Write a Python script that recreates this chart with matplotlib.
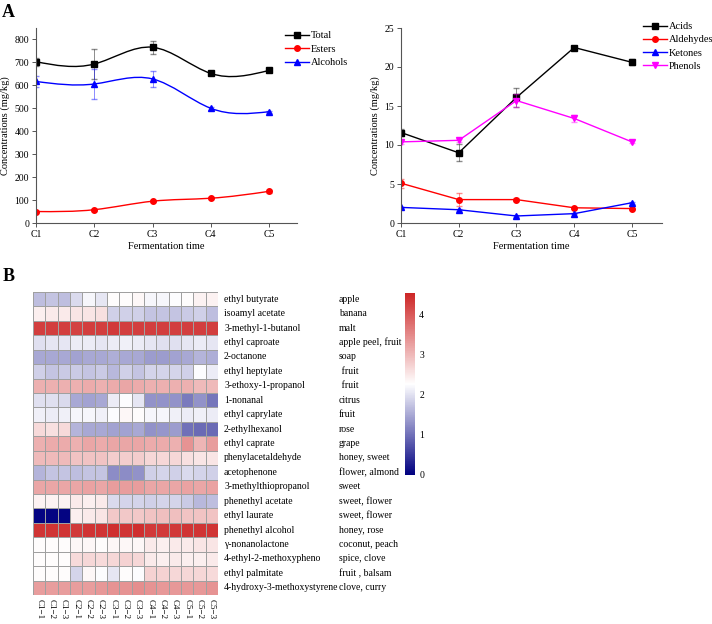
import numpy as np
import matplotlib.pyplot as plt
from matplotlib.path import Path
from matplotlib.patches import PathPatch
from matplotlib.colors import LinearSegmentedColormap

plt.rcParams['font.family'] = ['Liberation Serif', 'DejaVu Serif']
plt.rcParams['font.size'] = 7

# ---- panel A data ----
stages = ['C1', 'C2', 'C3', 'C4', 'C5']

total = [703, 693, 766, 652, 665]
total_err = [18, 65, 28, 5, 5]
esters = [50, 58, 95, 108, 138]
esters_err = [3, 4, 5, 5, 6]
alcohols = [617, 606, 628, 500, 485]
alcohols_err = [25, 65, 35, 6, 5]

acids = [11.6, 9.0, 16.1, 22.5, 20.6]
acids_err = [0.4, 1.1, 1.2, 0.1, 0.4]
aldehydes = [5.1, 3.0, 3.0, 1.95, 1.85]
aldehydes_err = [0.6, 0.8, 0.15, 0.1, 0.1]
ketones = [2.0, 1.7, 0.9, 1.2, 2.6]
ketones_err = [0.1, 0.1, 0.1, 0.1, 0.15]
phenols = [10.4, 10.6, 15.7, 13.4, 10.4]
phenols_err = [0.3, 0.2, 0.8, 0.5, 0.2]

# ---- panel B data ----
compounds = ['ethyl butyrate', 'isoamyl acetate', '3-methyl-1-butanol', 'ethyl caproate',
             '2-octanone', 'ethyl heptylate', '3-ethoxy-1-propanol', '1-nonanal',
             'ethyl caprylate', '2-ethylhexanol', 'ethyl caprate', 'phenylacetaldehyde',
             'acetophenone', '3-methylthiopropanol', 'phenethyl acetate', 'ethyl laurate',
             'phenethyl alcohol', 'γ-nonanolactone', '4-ethyl-2-methoxypheno',
             'ethyl palmitate', '4-hydroxy-3-methoxystyrene']
aromas = ['apple', 'banana', 'malt', 'apple peel, fruit', 'soap', ' fruit', ' fruit',
          'citrus', 'fruit', 'rose', 'grape', 'honey, sweet', 'flower, almond', 'sweet',
          'sweet, flower', 'sweet, flower', 'honey, rose', 'coconut, peach', 'spice, clove',
          'fruit , balsam', 'clove, curry']
samples = [f'C{i}\u2212{j}' for i in range(1, 6) for j in range(1, 4)]

heat = [
    [1.7, 1.75, 1.7, 1.95, 2.2, 2.05, 2.3, 2.3, 2.35, 2.2, 2.2, 2.25, 2.3, 2.4, 2.4],
    [2.45, 2.5, 2.5, 2.55, 2.55, 2.6, 1.85, 1.85, 1.85, 1.75, 1.75, 1.75, 1.8, 1.85, 1.7],
    [4.3, 4.3, 4.3, 4.25, 4.3, 4.3, 4.35, 4.3, 4.3, 4.3, 4.3, 4.3, 4.3, 4.3, 4.3],
    [2.0, 2.05, 2.05, 2.1, 2.1, 2.05, 2.1, 2.15, 2.1, 2.05, 2.0, 2.0, 2.05, 2.1, 2.05],
    [1.5, 1.5, 1.5, 1.45, 1.5, 1.5, 1.55, 1.5, 1.5, 1.4, 1.4, 1.45, 1.5, 1.6, 1.55],
    [1.85, 1.75, 1.8, 1.8, 1.75, 1.8, 1.65, 1.85, 1.75, 1.9, 1.9, 1.9, 1.85, 2.25, 2.1],
    [3.1, 3.1, 3.1, 3.1, 3.15, 3.1, 3.15, 3.2, 3.15, 3.1, 3.1, 3.1, 3.1, 3.0, 3.0],
    [2.0, 2.0, 1.95, 1.5, 1.45, 1.5, 2.1, 2.25, 2.05, 1.3, 1.3, 1.3, 1.1, 1.3, 1.05],
    [2.15, 2.1, 2.15, 2.2, 2.2, 2.15, 2.25, 2.35, 2.3, 2.2, 2.2, 2.15, 2.1, 2.15, 2.1],
    [2.65, 2.6, 2.65, 1.6, 1.5, 1.5, 1.45, 1.45, 1.5, 1.3, 1.35, 1.4, 1.0, 0.95, 0.95],
    [3.1, 3.15, 3.15, 3.1, 3.2, 3.15, 3.2, 3.2, 3.2, 3.15, 3.15, 3.1, 3.4, 3.05, 3.3],
    [3.0, 3.0, 3.0, 2.9, 2.9, 2.9, 2.8, 2.8, 2.8, 2.7, 2.7, 2.7, 2.6, 2.55, 2.55],
    [1.6, 1.75, 1.75, 1.7, 1.75, 1.75, 1.25, 1.25, 1.3, 1.85, 1.9, 1.85, 1.95, 1.9, 1.85],
    [3.2, 3.2, 3.2, 3.2, 3.25, 3.2, 3.3, 3.3, 3.3, 3.2, 3.2, 3.2, 3.25, 3.2, 3.25],
    [2.4, 2.4, 2.4, 2.5, 2.45, 2.5, 1.95, 1.9, 1.9, 1.85, 1.9, 1.9, 1.8, 1.65, 1.7],
    [0.05, 0.05, 0.05, 2.45, 2.5, 2.55, 2.85, 2.85, 2.85, 2.9, 2.95, 2.95, 2.9, 2.9, 2.9],
    [4.4, 4.4, 4.4, 4.35, 4.4, 4.4, 4.45, 4.4, 4.45, 4.35, 4.35, 4.35, 4.4, 4.4, 4.4],
    [2.3, 2.3, 2.3, 2.35, 2.35, 2.3, 2.35, 2.35, 2.35, 2.5, 2.45, 2.5, 2.5, 2.55, 2.55],
    [2.3, 2.3, 2.3, 2.65, 2.7, 2.65, 2.7, 2.75, 2.7, 2.5, 2.45, 2.5, 2.45, 2.45, 2.5],
    [2.3, 2.3, 2.3, 1.9, 2.35, 2.25, 2.05, 2.3, 2.25, 2.75, 2.75, 2.7, 2.7, 2.7, 2.65],
    [3.3, 3.3, 3.3, 3.3, 3.3, 3.35, 3.4, 3.4, 3.45, 3.4, 3.35, 3.35, 3.35, 3.35, 3.4],
]


def spline_path(x, y):
    # natural cubic spline drawn as bezier segments
    x = np.asarray(x, float)
    y = np.asarray(y, float)
    n = len(x)
    h = np.diff(x)
    A = np.zeros((n, n))
    b = np.zeros(n)
    A[0, 0] = A[-1, -1] = 1
    for i in range(1, n - 1):
        A[i, i - 1] = h[i - 1]
        A[i, i] = 2 * (h[i - 1] + h[i])
        A[i, i + 1] = h[i]
        b[i] = 6 * ((y[i + 1] - y[i]) / h[i] - (y[i] - y[i - 1]) / h[i - 1])
    M = np.linalg.solve(A, b)
    m = np.zeros(n)
    for i in range(n - 1):
        m[i] = (y[i + 1] - y[i]) / h[i] - h[i] * (2 * M[i] + M[i + 1]) / 6
    m[-1] = (y[-1] - y[-2]) / h[-1] + h[-1] * (M[-2] + 2 * M[-1]) / 6
    verts = [(x[0], y[0])]
    codes = [Path.MOVETO]
    for i in range(n - 1):
        verts += [(x[i] + h[i] / 3, y[i] + m[i] * h[i] / 3),
                  (x[i + 1] - h[i] / 3, y[i + 1] - m[i + 1] * h[i] / 3),
                  (x[i + 1], y[i + 1])]
        codes += [Path.CURVE4] * 3
    return Path(verts, codes)


def style_axes(ax):
    for s in ['top', 'right']:
        ax.spines[s].set_visible(False)
    for s in ['left', 'bottom']:
        ax.spines[s].set_color('#555555')
        ax.spines[s].set_linewidth(0.8)
    ax.tick_params(direction='out', length=3, width=0.7, color='#555555', labelsize=7, pad=2)


fig = plt.figure(figsize=(7.12, 6.24), dpi=100)

xs = np.arange(len(stages))

# ---- A left ----
ax1 = fig.add_axes([36 / 712, 1 - 223 / 624, 261 / 712, 195 / 624])
for vals, err, col, mk, lab in [(total, total_err, 'black', 's', 'Total'),
                                (esters, esters_err, 'red', 'o', 'Esters'),
                                (alcohols, alcohols_err, 'blue', '^', 'Alcohols')]:
    ax1.add_patch(PathPatch(spline_path(xs, vals), fill=False, edgecolor=col, lw=1.0))
    ax1.errorbar(xs, vals, yerr=err, fmt='none', ecolor=col, alpha=0.45, elinewidth=0.7, capsize=2)
    ax1.plot(xs, vals, linestyle='none', marker=mk, color=col, markersize=4)
    ax1.plot([], [], color=col, marker=mk, markersize=4, lw=1.0, label=lab)
ax1.set_xlim(0, 4.48)
ax1.set_ylim(0, 850)
ax1.set_xticks(xs)
ax1.set_xticklabels(stages)
ax1.set_yticks(np.arange(0, 801, 100))
ax1.set_xlabel('Fermentation time', fontsize=7.5, labelpad=2)
ax1.set_ylabel('Concentrations (mg/kg)', fontsize=7.5, labelpad=3)
style_axes(ax1)
ax1.legend(loc='upper left', bbox_to_anchor=(285 / 712, 1 - 31 / 624), bbox_transform=fig.transFigure,
           frameon=False, borderpad=0, borderaxespad=0, handlelength=2.3, handletextpad=0.2,
           labelspacing=0.4, fontsize=7.5)

# ---- A right ----
ax2 = fig.add_axes([401 / 712, 1 - 223 / 624, 261 / 712, 195 / 624])
for vals, err, col, mk, lab in [(acids, acids_err, 'black', 's', 'Acids'),
                                (aldehydes, aldehydes_err, 'red', 'o', 'Aldehydes'),
                                (ketones, ketones_err, 'blue', '^', 'Ketones'),
                                (phenols, phenols_err, 'magenta', 'v', 'Phenols')]:
    ax2.errorbar(xs, vals, yerr=err, fmt='none', ecolor=col, alpha=0.45, elinewidth=0.7, capsize=2)
    ax2.plot(xs, vals, color=col, marker=mk, markersize=4, lw=1.0, label=lab)
ax2.set_xlim(0, 4.52)
ax2.set_ylim(0, 25)
ax2.set_xticks(xs)
ax2.set_xticklabels(stages)
ax2.set_yticks(np.arange(0, 26, 5))
ax2.set_xlabel('Fermentation time', fontsize=7.5, labelpad=2)
ax2.set_ylabel('Concentrations (mg/kg)', fontsize=7.5, labelpad=3)
style_axes(ax2)
ax2.legend(loc='upper left', bbox_to_anchor=(643 / 712, 1 - 22 / 624), bbox_transform=fig.transFigure,
           frameon=False, borderpad=0, borderaxespad=0, handlelength=2.3, handletextpad=0.2,
           labelspacing=0.37, fontsize=7.5)

fig.text(2 / 712, 1 - 4 / 624, 'A', fontsize=13, fontweight='bold', va='top', ha='left')
fig.text(3 / 712, 1 - 268 / 624, 'B', fontsize=13, fontweight='bold', va='top', ha='left')

# ---- B heatmap ----
cmap = LinearSegmentedColormap.from_list('nwf', ['#000080', '#ffffff', '#CD2626'])
ax3 = fig.add_axes([33 / 712, 1 - 595 / 624, 185 / 712, 303 / 624])
data = np.array(heat)
mesh = ax3.pcolormesh(data, cmap=cmap, vmin=0, vmax=4.55, edgecolors='#a0a0a0', linewidth=0.4)
ax3.set_xlim(0, len(samples))
ax3.set_ylim(len(compounds), 0)
for s in ax3.spines.values():
    s.set_visible(False)
ax3.set_yticks([])
ax3.set_xticks(np.arange(len(samples)) + 0.5)
ax3.set_xticklabels(samples, rotation=-90, fontsize=6.5)
ax3.tick_params(axis='x', length=0, pad=3)
tr = ax3.get_yaxis_transform()
for i, (c, a) in enumerate(zip(compounds, aromas)):
    ax3.text(1.033, i + 0.5, c, transform=tr, va='center', ha='left', fontsize=7)
    ax3.text(1.652, i + 0.5, a, transform=tr, va='center', ha='left', fontsize=7)

cax = fig.add_axes([405 / 712, 1 - 475 / 624, 10 / 712, 182 / 624])
cb = fig.colorbar(mesh, cax=cax)
cb.outline.set_visible(False)
cb.set_ticks([0, 1, 2, 3, 4])
cax.tick_params(length=0, pad=3, labelsize=7)

fig.savefig('out.png', dpi=100)
